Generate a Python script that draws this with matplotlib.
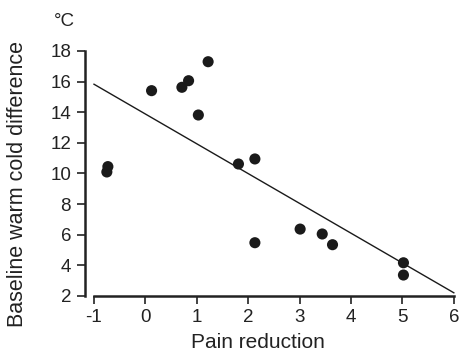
import matplotlib
matplotlib.use("Agg")
import matplotlib.pyplot as plt

plt.rcParams['font.family'] = ['Liberation Sans', 'DejaVu Sans']

pain_reduction = [-0.73, -0.75, 0.12, 0.71, 0.84, 1.22, 1.03, 1.81, 2.13, 2.13, 3.01, 3.44, 3.64, 5.02, 5.02]
warm_cold_diff = [10.45, 10.1, 15.41, 15.63, 16.06, 17.3, 13.82, 10.62, 10.95, 5.48, 6.37, 6.05, 5.35, 4.17, 3.37]
fit_x = [-1.0, 6.0]
fit_y = [15.83, 2.21]
x_ticks = [-1, 0, 1, 2, 3, 4, 5, 6]
y_ticks = [2, 4, 6, 8, 10, 12, 14, 16, 18]

fig = plt.figure(figsize=(4.61, 3.54), dpi=100)
ax = fig.add_axes([85/461, 1 - 296/354, 371.4/461, 249.6/354])

ax.plot(fit_x, fit_y, color='#1a1a1a', lw=1.0, zorder=2)
ax.scatter(pain_reduction, warm_cold_diff, s=64, color='#1a1a1a', edgecolors='none', zorder=3, clip_on=False)

ax.set_xlim(-1.175, 6.05)
ax.set_ylim(2, 18.3)
ax.set_xticks(x_ticks)
ax.set_yticks(y_ticks)
ax.set_xticklabels([str(v) for v in x_ticks])
ax.set_yticklabels([str(v) for v in y_ticks])

for s in ['top', 'right']:
    ax.spines[s].set_visible(False)
ax.spines['left'].set_bounds(2, 18)
ax.spines['bottom'].set_bounds(-1, 6)
for s in ['left', 'bottom']:
    ax.spines[s].set_linewidth(1.8)
    ax.spines[s].set_color('#222222')

ax.tick_params(axis='both', direction='out', length=5.5, width=1.2, colors='#222222',
               labelsize=13.5, labelcolor='#222222')
ax.tick_params(axis='y', pad=4.5)
ax.tick_params(axis='x', pad=4)

ax.set_xlabel('Pain reduction', fontsize=15, color='#222222')
ax.set_ylabel('Baseline warm cold difference', fontsize=15.5, color='#222222')
ax.xaxis.set_label_coords(0.466, -0.148)
ax.yaxis.set_label_coords(-0.153, 0.449)

fig.text(64.5/461, 1 - 22/354, '°C', fontsize=13.5, color='#222222', ha='center', va='center')

fig.savefig('out.png', dpi=100)
